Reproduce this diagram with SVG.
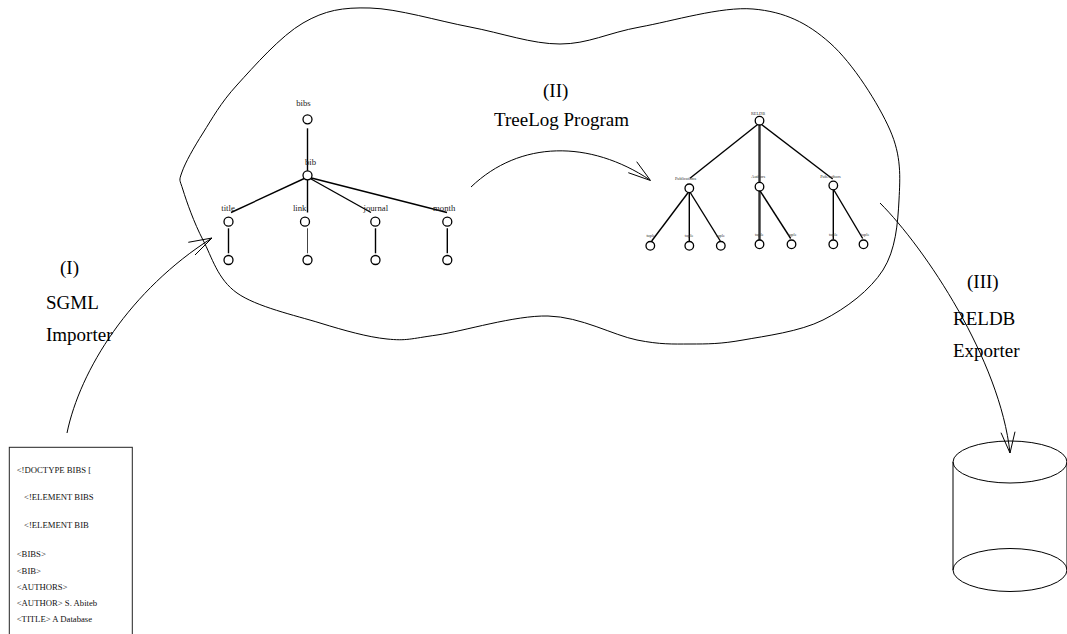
<svg xmlns="http://www.w3.org/2000/svg" width="1067" height="634" viewBox="0 0 1067 634">
  <style>
    .line { fill: none; stroke: #000; stroke-width: 1; }
    .edge { fill: none; stroke: #000; stroke-width: 1.4; }
    .edge-heavy { fill: none; stroke: #333; stroke-width: 2.4; }
    .node { fill: #fff; stroke: #000; stroke-width: 1.3; }
    .lbl { font-family: "Liberation Serif", "Times New Roman", serif; fill: #000; }
    .big { font-size: 19px; }
    .tree { font-size: 8.7px; fill: #222; text-anchor: middle; }
    .tiny { font-size: 4.3px; fill: #333; text-anchor: middle; }
    .doc { font-size: 8.7px; fill: #111; }
  </style>

  <rect width="1067" height="634" fill="#fff"/>

  <!-- workspace cloud -->
  <path id="workspace" class="line" d="M182,172 C185.3,162.5 193.8,147.5 203,133 C212.2,118.5 220.3,103.3 237,85 C253.7,66.7 280.8,35.8 303,23 C325.2,10.2 342.2,7.3 370,8 C397.8,8.7 438.3,21 470,27 C501.7,33 531.7,44 560,44 C588.3,44 607.8,32.8 640,27 C672.2,21.2 721.3,6.3 753,9 C784.7,11.7 807.2,22.8 830,43 C852.8,63.2 878.5,103.8 890,130 C901.5,156.2 900.2,176.7 899,200 C897.8,223.3 895.7,250 883,270 C870.3,290 846.3,308.3 823,320 C799.7,331.7 765.2,336 743,340 C720.8,344 707.7,344 690,344 C672.3,344 660.7,344.7 637,340 C613.3,335.3 581.3,316.8 548,316 C514.7,315.2 463.8,331.2 437,335 C410.2,338.8 406.5,341 387,339 C367.5,337 345,330.7 320,323 C295,315.3 256.5,306.8 237,293 C217.5,279.2 212,257.2 203,240 C194,222.8 186.5,201.3 183,190 C179.5,178.7 178.7,181.5 182,172 Z"/>

  <!-- connectors: tree edges and process arrows -->
  <g id="connectors">
    <!-- source tree -->
    <line class="edge" x1="307.5" y1="128.3" x2="307.5" y2="171"/>
    <line class="edge" x1="307.5" y1="177" x2="231" y2="212.5"/>
    <line class="edge" x1="307.5" y1="177" x2="307.5" y2="212.5"/>
    <line class="edge" x1="307.5" y1="177" x2="371" y2="212.5"/>
    <line class="edge" x1="307.5" y1="177" x2="447" y2="212.5"/>
    <line class="edge" x1="228.5" y1="228.3" x2="228.5" y2="253.3"/>
    <line class="edge" x1="307.5" y1="228.3" x2="307.5" y2="253.3" style="stroke:#444;stroke-width:1"/>
    <line class="edge" x1="375.5" y1="228.3" x2="375.5" y2="253.3"/>
    <line class="edge" x1="447.3" y1="228.3" x2="447.3" y2="253.3"/>

    <!-- relational tree -->
    <line class="edge" x1="759.5" y1="123" x2="690" y2="178.3"/>
    <line class="edge-heavy" x1="759.5" y1="123" x2="759.5" y2="182"/>
    <line class="edge" x1="759.5" y1="123" x2="832.7" y2="179"/>
    <line class="edge" x1="689.3" y1="191" x2="651.7" y2="241"/>
    <line class="edge" x1="689.3" y1="191" x2="689.3" y2="241"/>
    <line class="edge" x1="689.3" y1="191" x2="720.3" y2="241"/>
    <line class="edge-heavy" x1="759.5" y1="190" x2="759.5" y2="240"/>
    <line class="edge" x1="759.5" y1="190" x2="790.7" y2="238.5"/>
    <line class="edge" x1="833.3" y1="189" x2="833.3" y2="239.5"/>
    <line class="edge" x1="833.3" y1="189" x2="862.7" y2="238.5"/>

    <!-- (I) import -->
    <path class="line" d="M67,433 C80,370 130,290 212,238"/>
    <polyline class="line" points="188.3,242.3 212,238 195,255"/>
    <!-- (II) transform -->
    <path class="line" d="M471,187 C520,140 590,140 650,180"/>
    <polyline class="line" points="636.7,161.7 650.5,180.5 628.3,172.7"/>
    <!-- (III) export -->
    <path class="line" d="M880,203 C925,248 1000,360 1010,453"/>
    <polyline class="line" points="1001,432.7 1010,453 1015,431.7"/>
  </g>

  <!-- source tree nodes -->
  <g id="n-bibs"><circle class="node" cx="307.5" cy="119.3" r="4.5"/><text class="lbl tree" x="303.4" y="106">bibs</text></g>
  <g id="n-bib"><circle class="node" cx="307.5" cy="175.3" r="4.5"/><text class="lbl tree" x="310.5" y="164.5">bib</text></g>
  <g id="n-title"><circle class="node" cx="228.5" cy="221.7" r="4.5"/><text class="lbl tree" x="228" y="211">title</text></g>
  <g id="n-link"><circle class="node" cx="305" cy="221.7" r="4.5"/><text class="lbl tree" x="299.7" y="211">link</text></g>
  <g id="n-journal"><circle class="node" cx="375.3" cy="221.7" r="4.5"/><text class="lbl tree" x="375.8" y="211">journal</text></g>
  <g id="n-month"><circle class="node" cx="447.3" cy="221.7" r="4.5"/><text class="lbl tree" x="444.2" y="211">month</text></g>
  <g id="n-title-val"><circle class="node" cx="228.5" cy="260" r="4.5"/></g>
  <g id="n-link-val"><circle class="node" cx="307.5" cy="260" r="4.5"/></g>
  <g id="n-journal-val"><circle class="node" cx="375.5" cy="260" r="4.5"/></g>
  <g id="n-month-val"><circle class="node" cx="447.3" cy="260" r="4.5"/></g>

  <!-- relational tree nodes -->
  <g id="r-root"><circle class="node" cx="759.5" cy="120.7" r="4.3"/><text class="lbl tiny" x="758" y="114.5">RELDB</text></g>
  <g id="r-pub"><circle class="node" cx="689.3" cy="188.3" r="4.3"/><text class="lbl tiny" x="685.5" y="180">Publications</text></g>
  <g id="r-auth"><circle class="node" cx="759.5" cy="186.7" r="4.3"/><text class="lbl tiny" x="758.3" y="178.2">Authors</text></g>
  <g id="r-pubauth"><circle class="node" cx="833.3" cy="185.5" r="4.3"/><text class="lbl tiny" x="830.5" y="178.2">PubAuthors</text></g>
  <g id="r-pub-t1"><circle class="node" cx="650.3" cy="245.8" r="4.3"/><text class="lbl tiny" x="650.7" y="237.3">tuple</text></g>
  <g id="r-pub-t2"><circle class="node" cx="689.3" cy="245.8" r="4.3"/><text class="lbl tiny" x="689" y="237.3">tuple</text></g>
  <g id="r-pub-t3"><circle class="node" cx="720.8" cy="245.8" r="4.3"/><text class="lbl tiny" x="720.5" y="237.3">tuple</text></g>
  <g id="r-auth-t1"><circle class="node" cx="759.5" cy="244.3" r="4.3"/><text class="lbl tiny" x="759.3" y="235.8">tuple</text></g>
  <g id="r-auth-t2"><circle class="node" cx="791.5" cy="244.3" r="4.3"/><text class="lbl tiny" x="792.3" y="235.8">tuple</text></g>
  <g id="r-pa-t1"><circle class="node" cx="833.3" cy="244.3" r="4.3"/><text class="lbl tiny" x="833.3" y="235.8">tuple</text></g>
  <g id="r-pa-t2"><circle class="node" cx="863.5" cy="244.3" r="4.3"/><text class="lbl tiny" x="865" y="235.8">tuple</text></g>

  <!-- step captions -->
  <g id="step-import">
    <text class="lbl big" x="60" y="274">(I)</text>
    <text class="lbl big" x="46" y="308.5">SGML</text>
    <text class="lbl big" x="46" y="340.5">Importer</text>
  </g>
  <g id="step-transform">
    <text class="lbl big" x="543" y="97">(II)</text>
    <text class="lbl big" x="494" y="126">TreeLog Program</text>
  </g>
  <g id="step-export">
    <text class="lbl big" x="967" y="288">(III)</text>
    <text class="lbl big" x="953" y="325">RELDB</text>
    <text class="lbl big" x="953" y="357">Exporter</text>
  </g>

  <!-- SGML document -->
  <g id="sgml-doc">
    <rect x="9.3" y="447.3" width="123" height="200" fill="#fff" stroke="#222" stroke-width="1"/>
    <text class="lbl doc" x="16.7" y="473">&lt;!DOCTYPE BIBS [</text>
    <text class="lbl doc" x="24" y="500">&lt;!ELEMENT BIBS</text>
    <text class="lbl doc" x="24" y="528">&lt;!ELEMENT BIB</text>
    <text class="lbl doc" x="16.7" y="557">&lt;BIBS&gt;</text>
    <text class="lbl doc" x="16.7" y="574">&lt;BIB&gt;</text>
    <text class="lbl doc" x="16.7" y="590">&lt;AUTHORS&gt;</text>
    <text class="lbl doc" x="16.7" y="606">&lt;AUTHOR&gt; S. Abiteb</text>
    <text class="lbl doc" x="16.7" y="622">&lt;TITLE&gt; A Database</text>
  </g>

  <!-- relational database -->
  <g id="reldb">
    <path class="line" d="M953,462 L953,570 M1067,462 L1067,570"/>
    <ellipse class="line" cx="1010" cy="462" rx="57" ry="21"/>
    <ellipse class="line" cx="1010" cy="570" rx="57" ry="21.5"/>
  </g>
</svg>
